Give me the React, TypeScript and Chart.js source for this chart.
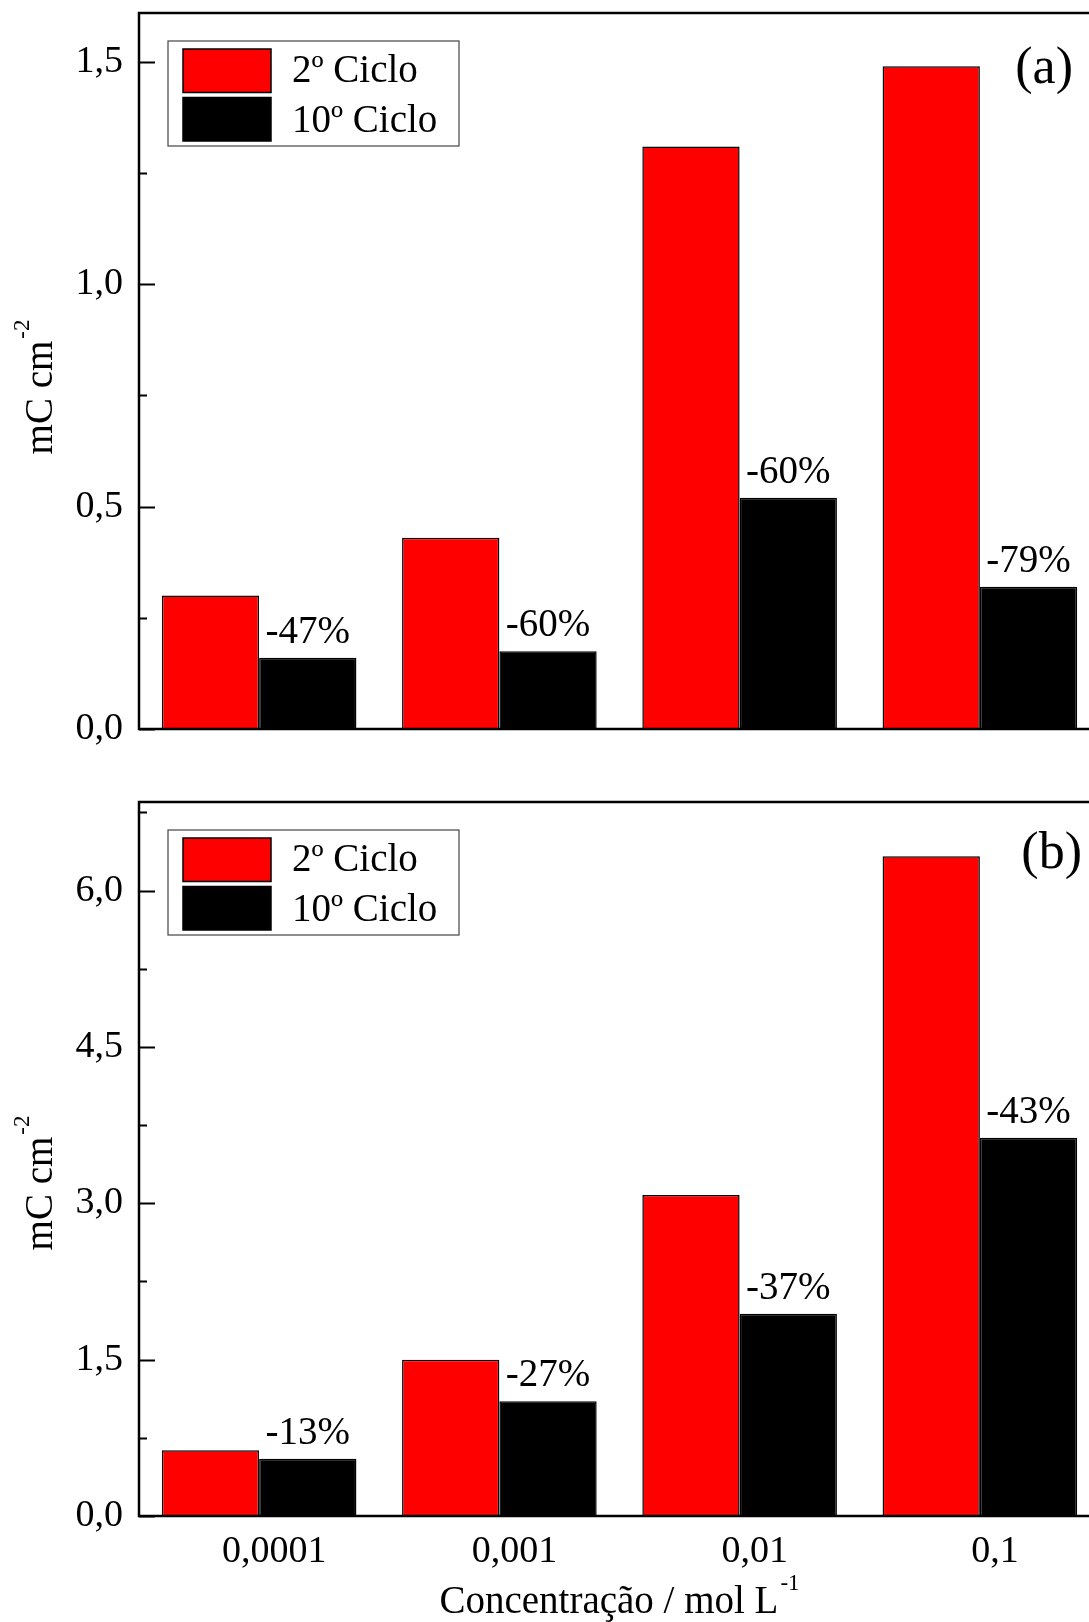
import React, { useEffect, useRef } from "react";
import { Chart, registerables } from "chart.js";

Chart.register(...registerables);

// Concentration categories (mol L-1) and series names
const categories = ["0,0001", "0,001", "0,01", "0,1"];
const seriesNames = ["2º Ciclo", "10º Ciclo"];

// Panel (a)
const ciclo2A = [0.3, 0.43, 1.31, 1.49];
const ciclo10A = [0.16, 0.175, 0.52, 0.32];
const lossA = ["-47%", "-60%", "-60%", "-79%"];
const majorTicksA = [0, 0.5, 1.0, 1.5];
const minorTicksA = [0.25, 0.75, 1.25];

// Panel (b)
const ciclo2B = [0.63, 1.5, 3.08, 6.33];
const ciclo10B = [0.55, 1.1, 1.94, 3.63];
const lossB = ["-13%", "-27%", "-37%", "-43%"];
const majorTicksB = [0, 1.5, 3.0, 4.5, 6.0];
const minorTicksB = [0.75, 2.25, 3.75, 5.25, 6.75];

const FONT = '"Liberation Serif", "Times New Roman", serif';
const RED = "#ff0000";
const BLACK = "#000000";

const fmt = (v: number) => v.toFixed(1).replace(".", ",");

// Draws frame, inward ticks, value-change labels, legend, panel tag and axis titles
const panelDeco = {
  id: "panelDeco",
  afterDatasetsDraw(chart: any, _args: any, opts: any) {
    const { ctx, chartArea } = chart;
    const { left, right, top, bottom } = chartArea;
    const yScale = chart.scales.y;
    ctx.save();

    // percentage labels over the 10th-cycle bars
    ctx.font = `39px ${FONT}`;
    ctx.fillStyle = "#000";
    ctx.textAlign = "center";
    ctx.textBaseline = "alphabetic";
    const meta = chart.getDatasetMeta(1);
    meta.data.forEach((bar: any, i: number) => {
      ctx.fillText(opts.losses[i], bar.x, bar.y - 15);
    });

    // frame: top, left and bottom lines
    ctx.strokeStyle = "#000";
    ctx.lineWidth = 2.5;
    ctx.lineJoin = "miter";
    ctx.beginPath();
    ctx.moveTo(chart.width, top);
    ctx.lineTo(left, top);
    ctx.lineTo(left, bottom);
    ctx.lineTo(chart.width, bottom);
    ctx.stroke();

    // inward ticks on the y axis
    ctx.lineWidth = 2;
    ctx.beginPath();
    opts.major.forEach((v: number) => {
      const py = Math.round(yScale.getPixelForValue(v)) + 0.5;
      ctx.moveTo(left, py);
      ctx.lineTo(left + 16, py);
    });
    opts.minor.forEach((v: number) => {
      const py = Math.round(yScale.getPixelForValue(v)) + 0.5;
      ctx.moveTo(left, py);
      ctx.lineTo(left + 8, py);
    });
    ctx.stroke();

    // legend
    const lx = 168;
    const ly = top + 28;
    ctx.lineWidth = 1.2;
    ctx.strokeStyle = "#444";
    ctx.strokeRect(lx, ly, 291, 105);
    chart.data.datasets.forEach((ds: any, i: number) => {
      const sy = ly + 8 + i * 48.5;
      ctx.fillStyle = ds.backgroundColor;
      ctx.fillRect(lx + 15, sy, 88, 43.5);
      ctx.lineWidth = 1.5;
      ctx.strokeStyle = "#000";
      ctx.strokeRect(lx + 15, sy, 88, 43.5);
      ctx.fillStyle = "#000";
      ctx.font = `39px ${FONT}`;
      ctx.textAlign = "left";
      ctx.fillText(ds.label, lx + 124, ly + 41 + i * 49.5);
    });

    // panel tag
    ctx.font = `52px ${FONT}`;
    ctx.textAlign = "right";
    ctx.fillText(opts.tag, opts.tagRight, top + opts.tagDy);

    // y axis title with superscript
    const drawSup = (main: string, sup: string) => {
      ctx.font = `39px ${FONT}`;
      const wm = ctx.measureText(main).width;
      ctx.font = `23px ${FONT}`;
      const ws = ctx.measureText(sup).width;
      return { wm, ws, total: wm + ws + 2 };
    };
    {
      const { wm, total } = drawSup("mC cm", "-2");
      ctx.save();
      ctx.translate(52, (top + bottom) / 2 + opts.titleShift);
      ctx.rotate(-Math.PI / 2);
      ctx.textAlign = "left";
      ctx.font = `39px ${FONT}`;
      ctx.fillText("mC cm", -total / 2, 0);
      ctx.font = `23px ${FONT}`;
      ctx.fillText("-2", -total / 2 + wm + 2, -23);
      ctx.restore();
    }

    // x axis title
    if (opts.xTitle) {
      const { wm, total } = drawSup("Concentração / mol L", "-1");
      const cx = (left + right) / 2;
      const by = bottom + 97;
      ctx.textAlign = "left";
      ctx.font = `39px ${FONT}`;
      ctx.fillText("Concentração / mol L", cx - total / 2, by);
      ctx.font = `23px ${FONT}`;
      ctx.fillText("-1", cx - total / 2 + wm + 2, by - 23);
    }

    ctx.restore();
  },
};

type PanelProps = {
  top: number;
  height: number;
  padTop: number;
  padBottom: number;
  xHeight: number;
  showX: boolean;
  yMax: number;
  s2: number[];
  s10: number[];
  losses: string[];
  major: number[];
  minor: number[];
  tag: string;
  tagRight: number;
  tagDy: number;
  titleShift: number;
};

function Panel(p: PanelProps) {
  const ref = useRef<HTMLCanvasElement | null>(null);

  useEffect(() => {
    if (!ref.current) return;
    const chart = new Chart(ref.current, {
      type: "bar",
      data: {
        labels: categories,
        datasets: [
          {
            label: seriesNames[0],
            data: p.s2,
            backgroundColor: RED,
            borderColor: BLACK,
            borderWidth: 1.5,
          },
          {
            label: seriesNames[1],
            data: p.s10,
            backgroundColor: BLACK,
            borderColor: BLACK,
            borderWidth: 1.5,
          },
        ],
      },
      options: {
        responsive: false,
        animation: false,
        layout: { padding: { top: p.padTop, bottom: p.padBottom, left: 0, right: 10 } },
        datasets: {
          bar: { categoryPercentage: 0.81, barPercentage: 1.0 },
        },
        scales: {
          x: {
            display: p.showX,
            offset: true,
            grid: { display: false, drawTicks: false },
            border: { display: false },
            ticks: {
              color: "#000",
              font: { family: FONT, size: 38 },
              padding: 13,
              labelOffset: 15,
              maxRotation: 0,
              autoSkip: false,
            },
            afterFit: (s: any) => {
              s.height = p.xHeight;
              s.paddingLeft = 0;
              s.paddingRight = 0;
            },
          },
          y: {
            min: 0,
            max: p.yMax,
            grid: { display: false, drawTicks: false },
            border: { display: false },
            ticks: {
              color: "#000",
              font: { family: FONT, size: 38 },
              padding: 16,
              callback: (v: any) => fmt(Number(v)),
            },
            afterBuildTicks: (s: any) => {
              s.ticks = p.major.map((v) => ({ value: v }));
            },
            afterFit: (s: any) => {
              s.width = 139;
              s.paddingTop = 0;
              s.paddingBottom = 0;
            },
          },
        },
        plugins: {
          legend: { display: false },
          tooltip: { enabled: false },
          title: { display: false },
          panelDeco: {
            losses: p.losses,
            major: p.major,
            minor: p.minor,
            tag: p.tag,
            tagRight: p.tagRight,
            tagDy: p.tagDy,
            titleShift: p.titleShift,
            xTitle: p.showX,
          },
        } as any,
      },
      plugins: [panelDeco],
    });
    return () => chart.destroy();
  }, []);

  return (
    <canvas
      ref={ref}
      width={1110}
      height={p.height}
      style={{ position: "absolute", left: 0, top: p.top, display: "block" }}
    />
  );
}

export default function App() {
  useEffect(() => {
    document.documentElement.style.overflow = "hidden";
  }, []);
  return (
    <div
      style={{
        position: "absolute",
        left: 0,
        top: 0,
        width: 1089,
        height: 1622,
        overflow: "hidden",
        background: "#fff",
      }}
    >
      <Panel
        top={0}
        height={760}
        padTop={13}
        padBottom={31}
        xHeight={0}
        showX={false}
        yMax={1.61}
        s2={ciclo2A}
        s10={ciclo10A}
        losses={lossA}
        major={majorTicksA}
        minor={minorTicksA}
        tag="(a)"
        tagRight={1073}
        tagDy={70}
        titleShift={16}
      />
      <Panel
        top={770}
        height={852}
        padTop={32}
        padBottom={0}
        xHeight={106}
        showX={true}
        yMax={6.85}
        s2={ciclo2B}
        s10={ciclo10B}
        losses={lossB}
        major={majorTicksB}
        minor={minorTicksB}
        tag="(b)"
        tagRight={1082}
        tagDy={66}
        titleShift={24}
      />
    </div>
  );
}
